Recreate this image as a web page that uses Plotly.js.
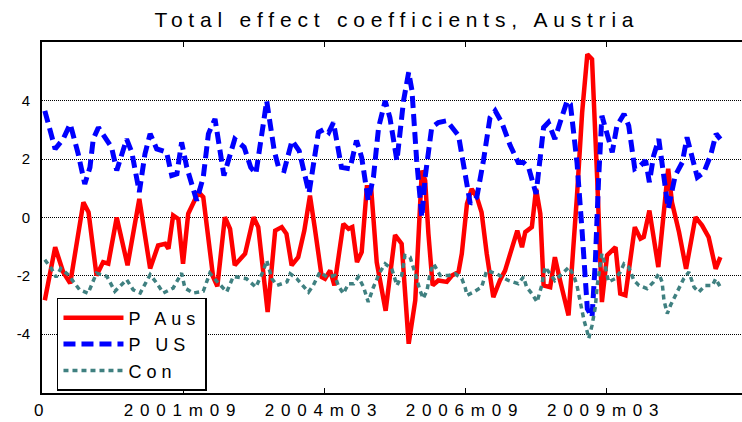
<!DOCTYPE html>
<html>
<head>
<meta charset="utf-8">
<script src="https://cdn.plot.ly/plotly-3.0.1.min.js"></script>
<style>
  body { margin: 0; background: #fff; }
  .gtitle { letter-spacing: 5.8px; }
  .xtick text { letter-spacing: 6.8px; }
  .legendtext { letter-spacing: 5px; }
</style>
</head>
<body>
<div id="plot" style="width:742px;height:422px;"></div>
<script>
	// Month index (0 = 1999m03)
	const ausX = [0.6, 2.8, 4.5, 6.0, 8.8, 9.9, 11.6, 13.0, 14.1, 15.9, 18.2, 20.7, 23.0, 24.7, 26.2, 26.9, 27.9, 29.0, 30.0, 31.1,
		33.3, 34.3, 36.4, 37.3, 38.9, 40.0, 41.0, 43.2, 45.0, 46.0, 48.0, 49.6, 51.0, 52.0, 53.1, 54.5, 55.8, 57.0, 58.0, 59.5,
		60.2, 61.3, 62.2, 64.1, 65.2, 66.0, 67.0, 68.0, 69.1, 70.0, 71.2, 73.1, 75.1, 76.5, 78.0, 79.4, 80.8, 81.5, 82.2, 83.1,
		84.3, 86.1, 87.2, 88.6, 89.3, 90.4, 91.4, 92.5, 93.5, 94.6, 96.0, 97.4, 98.5, 99.9, 101.1, 102.1, 102.8, 104.2, 105.1, 106.0,
		106.7, 108.1, 109.1, 110.2, 112.0, 113.8, 114.9, 116.0, 117.0, 118.1, 119.1, 120.2, 122.0, 123.0, 124.1, 126.1, 127.3, 128.0, 129.2, 131.1,
		133.2, 134.0, 135.5, 137.0, 139.0, 140.4, 141.8, 143.3, 144.3];
	const ausY = [-2.84, -1.02, -1.87, -2.26, 0.52, 0.18, -1.99, -1.53, -1.58, 0.0, -1.64, 0.64, -1.75, -0.96, -0.90, -1.07, 0.07, -0.05, -1.59, 0.13,
		0.87, 0.70, -2.04, -2.36, 0.01, -0.39, -1.64, -1.24, 0.01, -0.33, -3.24, -0.45, -0.33, -0.56, -1.64, -1.36, -0.45, 0.75, -0.33, -2.04,
		-2.10, -1.82, -2.33, -0.22, -0.39, -0.33, -1.53, -1.19, 1.04, 1.04, -1.53, -3.20, -0.60, -0.90, -4.33, -2.84, 1.61, 1.27, -0.56, -2.33,
		-2.16, -2.21, -1.99, -1.87, -1.24, 0.47, 0.98, 0.70, 0.18, -1.24, -2.73, -2.16, -1.82, -1.13, -0.45, -1.02, -0.50, -0.33, 0.98, 0.13,
		-2.33, -2.39, -1.36, -2.16, -3.36, 0.75, 3.61, 5.60, 5.43, 1.33, -2.90, -1.30, -1.02, -2.61, -2.67, -0.33, -0.73, -0.67, 0.24, -1.70,
		1.67, 0.52, -0.50, -1.76, 0.01, -0.27, -0.67, -1.76, -1.36];

	const usX = [0.6, 2.8, 4.5, 6.0, 7.7, 9.1, 10.2, 10.9, 12.0, 13.8, 14.8, 15.9, 18.0, 19.1, 20.7, 21.9, 23.0, 24.4, 26.5, 27.6,
		28.7, 29.7, 30.8, 32.9, 34.3, 35.4, 36.8, 38.7, 41.0, 43.0, 44.4, 45.5, 47.8, 49.4, 50.4, 51.5, 53.2, 54.7, 56.8, 58.8,
		60.2, 61.0, 62.0, 63.7, 65.5, 66.9, 68.0, 69.4, 70.5, 71.6, 73.0, 74.0, 75.5, 76.9, 78.0, 78.7, 79.7, 80.8, 81.5, 82.9,
		84.3, 86.1, 88.6, 91.1, 92.5, 93.9, 95.3, 96.4, 97.8, 99.6, 101.3, 102.4, 103.5, 105.1, 106.7, 107.7, 109.1, 110.2, 111.7, 112.4,
		113.8, 114.9, 116.0, 117.0, 117.7, 118.4, 119.1, 120.2, 121.3, 122.3, 123.8, 124.8, 126.1, 127.3, 128.4, 129.2, 130.1, 131.2, 131.9, 133.2,
		134.7, 136.2, 137.2, 138.3, 139.4, 140.8, 142.2, 143.4, 144.3];
	const usY = [3.66, 2.35, 2.69, 3.21, 2.18, 1.15, 1.72, 2.69, 3.09, 2.69, 2.41, 1.61, 2.69, 2.24, 0.87, 2.18, 2.87, 2.35, 2.24, 1.44,
		1.50, 2.58, 1.72, 0.58, 1.38, 2.87, 3.38, 1.44, 2.69, 2.41, 1.72, 1.50, 4.00, 2.29, 1.67, 1.61, 2.64, 2.29, 0.84, 2.92,
		3.04, 2.92, 3.26, 1.72, 1.67, 2.64, 2.06, 0.58, 1.38, 3.09, 4.00, 3.43, 1.95, 4.00, 4.98, 4.35, 1.95, 0.01, 1.38, 3.09,
		3.26, 3.32, 2.81, 0.47, 0.70, 1.95, 3.43, 3.66, 3.26, 2.47, 1.89, 1.89, 1.72, 0.81, 3.09, 3.26, 2.69, 3.26, 4.00, 3.89,
		1.89, -0.50, -3.13, -3.41, -1.53, 1.33, 3.49, 2.87, 2.24, 3.15, 3.55, 3.15, 1.67, 1.78, 1.95, 1.21, 2.12, 2.69, 1.78, 0.30,
		1.44, 1.89, 2.75, 2.01, 1.38, 1.55, 2.12, 2.87, 2.69];

	const conX = [0.6, 2.0, 3.0, 4.0, 5.5, 8.0, 9.8, 11.6, 13.8, 15.5, 18.0, 19.4, 20.9, 23.0, 24.4, 25.8, 27.9, 29.7, 30.4, 32.2,
		34.3, 35.7, 37.2, 39.3, 40.7, 43.5, 45.5, 47.1, 47.8, 48.9, 50.0, 52.1, 52.8, 54.2, 56.7, 57.7, 59.1, 60.6, 62.3, 63.0,
		64.1, 65.2, 66.3, 67.3, 68.4, 69.4, 70.5, 71.9, 73.0, 74.4, 75.5, 76.5, 77.2, 78.3, 79.4, 80.4, 81.1, 81.9, 82.6, 83.3,
		84.7, 86.5, 87.9, 89.3, 90.0, 90.4, 91.8, 93.5, 94.6, 96.7, 99.2, 101.3, 102.4, 103.1, 104.2, 105.3, 106.3, 107.0, 108.1, 109.1,
		110.6, 111.6, 112.1, 113.1, 113.8, 114.5, 115.3, 116.0, 116.3, 117.0, 117.7, 118.1, 118.8, 119.1, 119.8, 120.5, 121.9, 123.0, 123.8, 124.8,
		125.9, 127.0, 128.7, 130.1, 131.2, 131.9, 132.3, 133.0, 133.7, 134.8, 135.5, 136.5, 137.6, 138.7, 139.7, 141.1, 142.6, 143.3, 144.3];
	const conY = [-1.45, -1.75, -2.05, -1.75, -1.95, -2.48, -2.60, -1.91, -2.02, -2.53, -2.13, -2.48, -2.59, -1.96, -2.25, -2.59, -2.42, -1.91, -2.42, -2.59,
		-2.53, -1.91, -2.19, -2.55, -2.02, -2.10, -2.39, -1.82, -1.47, -2.10, -2.33, -2.21, -1.93, -2.10, -2.56, -2.33, -1.87, -2.04, -1.99, -2.33,
		-2.61, -2.27, -2.27, -2.04, -2.39, -2.90, -2.39, -1.87, -1.59, -1.76, -2.33, -1.99, -1.30, -1.36, -1.93, -2.50, -2.78, -2.50, -1.87, -1.59,
		-1.99, -1.99, -1.93, -2.10, -2.39, -2.67, -2.56, -2.39, -1.82, -1.93, -2.16, -2.27, -2.04, -2.39, -2.61, -2.90, -2.33, -1.70, -1.93, -2.16,
		-1.93, -1.76, -1.70, -1.99, -2.33, -2.90, -3.53, -3.93, -4.15, -3.70, -3.07, -2.33, -1.64, -1.24, -1.64, -2.21, -2.10, -1.87, -1.59, -1.70,
		-2.16, -2.33, -2.44, -2.21, -1.93, -2.21, -2.84, -3.30, -3.01, -2.67, -2.39, -2.10, -1.87, -2.39, -2.56, -2.33, -2.33, -2.10, -2.39];

	const xTickVals = [0, 30, 60, 90, 120];
	const xTickText = ['0', '2001m09', '2004m03', '2006m09', '2009m03'];
	const yTickVals = [-4, -2, 0, 2, 4];
	const yTickText = ['-4', '-2', '0', '2', '4'];

	const fontFamily = 'Liberation Sans, Arial, sans-serif';

	const data = [
		{
			x: ausX, y: ausY, mode: 'lines', name: 'P Aus', legendgroup: 'a',
			line: { color: '#ff0000', width: 4.5 }
		},
		{
			x: usX, y: usY, mode: 'lines', name: 'P US', legendgroup: 'b',
			line: { color: '#0000ff', width: 5, dash: '12px,6px' }
		},
		{
			x: conX, y: conY, mode: 'lines', name: 'Con', legendgroup: 'c',
			line: { color: '#3f8080', width: 3.5, dash: '5px,4px' }
		}
	];

	const layout = {
		width: 742,
		height: 422,
		margin: { l: 42, r: 0, t: 42, b: 29 },
		paper_bgcolor: '#ffffff',
		plot_bgcolor: '#ffffff',
		font: { family: fontFamily, color: '#000000' },
		showlegend: true,
		title: {
			text: 'Total effect coefficients, Austria',
			font: { size: 21, color: '#000000' },
			xref: 'container', x: 0.535, xanchor: 'center',
			yref: 'container', y: 0.954, yanchor: 'middle'
		},
		xaxis: {
			range: [0, 148.9],
			tickmode: 'array',
			tickvals: xTickVals,
			ticktext: xTickText,
			ticks: 'inside',
			ticklen: 5,
			tickwidth: 1,
			tickcolor: '#000000',
			showline: true,
			linecolor: '#000000',
			linewidth: 2,
			mirror: 'ticks',
			showgrid: false,
			zeroline: false,
			tickfont: { size: 17 },
			ticklabelstandoff: 1
		},
		yaxis: {
			range: [-6.02, 6.02],
			tickmode: 'array',
			tickvals: yTickVals,
			ticktext: yTickText,
			ticks: '',
			showline: true,
			linecolor: '#000000',
			linewidth: 2,
			showgrid: true,
			gridcolor: '#000000',
			gridwidth: 1,
			griddash: '1px,1px',
			zeroline: false,
			tickfont: { size: 15 },
			ticklabelstandoff: 7
		},
		legend: {
			x: 0.0214, y: 0.2707, xanchor: 'left', yanchor: 'top',
			bgcolor: '#ffffff',
			bordercolor: '#000000',
			borderwidth: 1.5,
			font: { size: 18 },
			itemwidth: 60,
			tracegroupgap: 0
		}
	};

	Plotly.newPlot('plot', data, layout, { staticPlot: true });
</script>
</body>
</html>
